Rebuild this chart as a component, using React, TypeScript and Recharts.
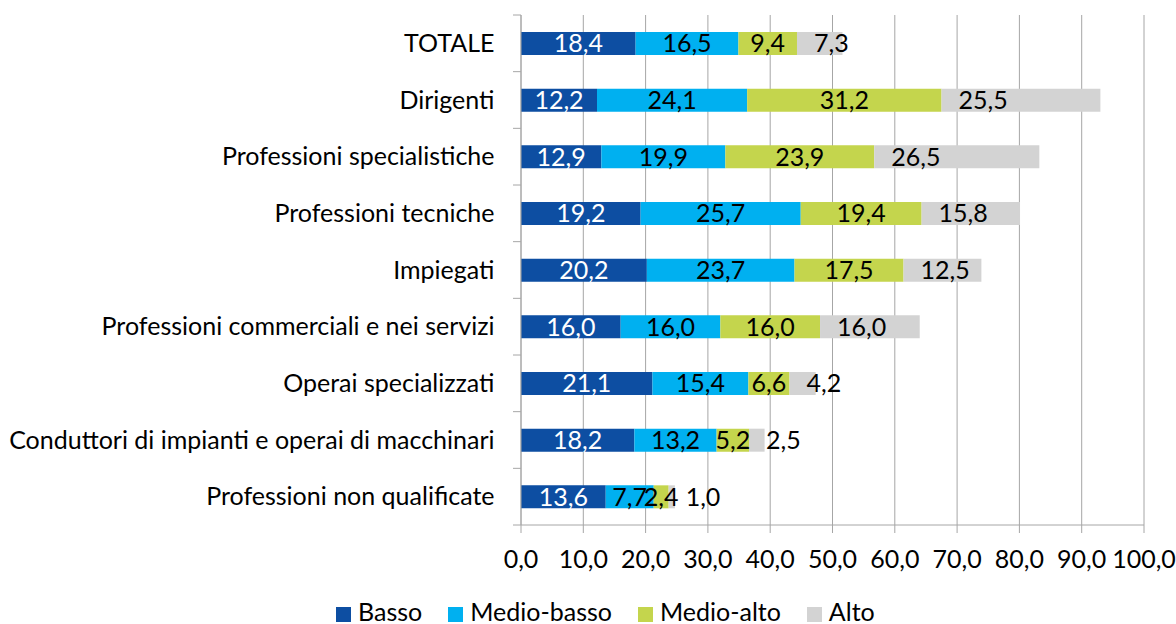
import React from 'react';
import { BarChart, Bar, XAxis, YAxis, CartesianGrid, LabelList, Legend } from 'recharts';

const categories = [
  'TOTALE',
  'Dirigenti',
  'Professioni specialistiche',
  'Professioni tecniche',
  'Impiegati',
  'Professioni commerciali e nei servizi',
  'Operai specializzati',
  'Conduttori di impianti e operai di macchinari',
  'Professioni non qualificate',
];
const basso = [18.4, 12.2, 12.9, 19.2, 20.2, 16.0, 21.1, 18.2, 13.6];
const medioBasso = [16.5, 24.1, 19.9, 25.7, 23.7, 16.0, 15.4, 13.2, 7.7];
const medioAlto = [9.4, 31.2, 23.9, 19.4, 17.5, 16.0, 6.6, 5.2, 2.4];
const alto = [7.3, 25.5, 26.5, 15.8, 12.5, 16.0, 4.2, 2.5, 1.0];
const xTicks = [0, 10, 20, 30, 40, 50, 60, 70, 80, 90, 100];

const seriesNames = ['Basso', 'Medio-basso', 'Medio-alto', 'Alto'];
const seriesKeys = ['basso', 'medioBasso', 'medioAlto', 'alto'];
const seriesColors = ['#0D4EA2', '#00B0F0', '#C4D54D', '#D3D3D3'];

const data = categories.map((c, i) => ({
  name: c,
  basso: basso[i],
  medioBasso: medioBasso[i],
  medioAlto: medioAlto[i],
  alto: alto[i],
}));

const W = 1176;
const H = 624;
const MARGIN = { top: 15, right: 32, bottom: 0, left: 0 };
const LEGEND_H = 40;
const XAXIS_H = 59;
const YAXIS_W = 521;
const PLOT_H = H - MARGIN.top - MARGIN.bottom - LEGEND_H - XAXIS_H;
const BAND = PLOT_H / categories.length;
const FONT = 'Lato, "Open Sans", sans-serif';
const FS = 25;
const GRID = '#A6A6A6';

const fmt = (v: number) => v.toFixed(1).replace('.', ',');

const YTick = (props: any) => {
  const { x, y, payload, index } = props;
  const last = index === categories.length - 1;
  return (
    <g>
      <line x1={x - 8} x2={x} y1={y - BAND / 2} y2={y - BAND / 2} stroke={GRID} strokeWidth={1} />
      {last && <line x1={x - 8} x2={x} y1={y + BAND / 2} y2={y + BAND / 2} stroke={GRID} strokeWidth={1} />}
      <text x={x - 26.5} y={y} dy="0.35em" textAnchor="end" fill="#000" fontSize={FS} fontFamily={FONT}>
        {payload.value}
      </text>
    </g>
  );
};

const makeLabel = (kind: 'center-white' | 'center' | 'base') => (props: any) => {
  const { x, y, width, height, value } = props;
  const cy = y + height / 2;
  if (kind === 'base') {
    return (
      <text x={x + 17} y={cy} dy="0.35em" textAnchor="start" fill="#000" fontSize={FS} fontFamily={FONT}>
        {fmt(value)}
      </text>
    );
  }
  return (
    <text
      x={x + width / 2}
      y={cy}
      dy="0.35em"
      textAnchor="middle"
      fill={kind === 'center-white' ? '#FFFFFF' : '#000'}
      fontSize={FS}
      fontFamily={FONT}
    >
      {fmt(value)}
    </text>
  );
};

const labelKinds: Array<'center-white' | 'center' | 'base'> = ['center-white', 'center', 'center', 'base'];

const LegendContent = () => (
  <div
    style={{
      display: 'flex',
      alignItems: 'center',
      paddingLeft: 336,
      paddingTop: 15,
      fontFamily: FONT,
      fontSize: FS,
      lineHeight: '25px',
      color: '#000',
    }}
  >
    {seriesNames.map((n, i) => (
      <div key={n} style={{ display: 'flex', alignItems: 'center', marginRight: 26 }}>
        <span
          style={{
            display: 'inline-block',
            width: 15,
            height: 15,
            background: seriesColors[i],
            marginRight: 7,
            position: 'relative',
            top: 3,
          }}
        />
        <span>{n}</span>
      </div>
    ))}
  </div>
);

export default function App() {
  return (
    <div style={{ position: 'absolute', left: 0, top: 0, width: W, height: H, background: '#fff' }}>
      <BarChart width={W} height={H} data={data} layout="vertical" margin={MARGIN} barSize={23}>
        <CartesianGrid horizontal={false} vertical={true} stroke={GRID} strokeWidth={1} />
        <XAxis
          type="number"
          domain={[0, 100]}
          ticks={xTicks}
          tickFormatter={fmt}
          height={XAXIS_H}
          stroke={GRID}
          tickSize={8}
          tickMargin={17}
          tick={{ fill: '#000', fontSize: FS, fontFamily: FONT }}
          interval={0}
        />
        <YAxis
          type="category"
          dataKey="name"
          width={YAXIS_W}
          stroke={GRID}
          tickLine={false}
          tickSize={0}
          tickMargin={0}
          tick={<YTick />}
          interval={0}
        />
        <Legend verticalAlign="bottom" height={LEGEND_H} content={<LegendContent />} />
        {seriesKeys.map((k, i) => (
          <Bar key={k} dataKey={k} name={seriesNames[i]} stackId="s" fill={seriesColors[i]} isAnimationActive={false}>
            <LabelList dataKey={k} content={makeLabel(labelKinds[i])} />
          </Bar>
        ))}
      </BarChart>
    </div>
  );
}
